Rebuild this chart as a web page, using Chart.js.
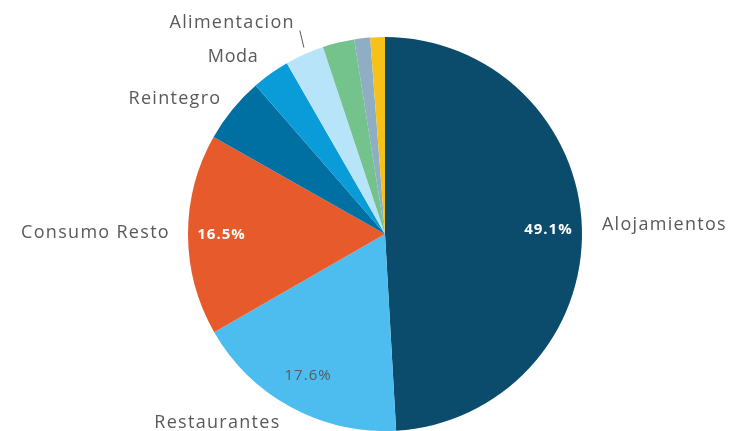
<!DOCTYPE html>
<html>
<head>
<meta charset="utf-8">
<script src="https://cdn.jsdelivr.net/npm/chart.js@4/dist/chart.umd.min.js"></script>
<style>
html,body{margin:0;padding:0;background:#fff;}
#wrap{width:731px;height:431px;position:relative;}
</style>
</head>
<body>
<div id="wrap"><canvas id="c" width="731" height="431"></canvas></div>
<script>
const categories = ["Alojamientos","Restaurantes","Consumo Resto","Reintegro","Moda","Alimentacion","Otros 1","Otros 2","Otros 3"];
const values = [49.1, 17.6, 16.5, 5.4, 3.1, 3.2, 2.6, 1.3, 1.2];
const colors = ["#0b4b6b","#4cbdee","#e65a2c","#006fa2","#0a9bd9","#b7e4f8","#74c28c","#8fadc3","#f6c118"];
const showLabel = [true,true,true,true,true,true,false,false,false];
const pctLabels = {0:{text:"49.1%",color:"#ffffff",bold:true},1:{text:"17.6%",color:"#5a5a5a",bold:false},2:{text:"16.5%",color:"#ffffff",bold:true}};

const labelPlugin = {
  id:'pieLabels',
  afterDatasetsDraw(chart){
    const ctx = chart.ctx;
    const meta = chart.getDatasetMeta(0);
    meta.data.forEach((arc,i)=>{
      const p = arc.getProps(['x','y','startAngle','endAngle','outerRadius'],true);
      const mid = (p.startAngle+p.endAngle)/2;
      const cos = Math.cos(mid), sin = Math.sin(mid);
      ctx.save();
      ctx.letterSpacing = '1.3px';
      if(showLabel[i]){
        let r = p.outerRadius + 18;
        if(i===5){ r = p.outerRadius + 4; }
        let x = p.x + r*cos, y = p.y + r*sin;
        ctx.font = '18px "Open Sans", "Noto Sans", sans-serif';
        ctx.fillStyle = '#595959';
        ctx.textBaseline = 'middle';
        ctx.textAlign = cos >= 0 ? 'left' : 'right';
        if(i===5){
          ctx.strokeStyle = '#595959';
          ctx.lineWidth = 1;
          ctx.beginPath();
          ctx.moveTo(x+1, y-3);
          ctx.lineTo(x-3, y-20);
          ctx.stroke();
          ctx.fillText(categories[i], x-8, y-28);
        } else if(i===0){
          ctx.fillText(categories[i], x+2, y-3);
        } else if(i===1){
          ctx.fillText(categories[i], x-2, y);
        } else if(i===2){
          ctx.fillText(categories[i], x, y-2);
        } else if(i===3){
          ctx.fillText(categories[i], x+3, y+1);
        } else if(i===4){
          ctx.letterSpacing = '0.6px';
          ctx.fillText(categories[i], x-2, y-2);
        }
      }
      if(pctLabels[i]){
        const pl = pctLabels[i];
        let rr = p.outerRadius*0.83;
        if(i===1) rr = p.outerRadius*0.82;
        const x = p.x + rr*cos, y = p.y + rr*sin;
        ctx.letterSpacing = '1px';
        ctx.font = (pl.bold?'bold ':'') + '15px "Open Sans", "Noto Sans", sans-serif';
        ctx.fillStyle = pl.color;
        ctx.textAlign = 'center';
        ctx.textBaseline = 'middle';
        ctx.fillText(pl.text, x, y);
      }
      ctx.restore();
    });
  }
};

new Chart(document.getElementById('c'),{
  type:'pie',
  data:{labels:categories,datasets:[{data:values,backgroundColor:colors,borderWidth:0}]},
  options:{
    responsive:false,
    animation:false,
    layout:{padding:{left:188,right:149,top:37,bottom:0}},
    plugins:{legend:{display:false},tooltip:{enabled:false}}
  },
  plugins:[labelPlugin]
});
</script>
</body>
</html>
